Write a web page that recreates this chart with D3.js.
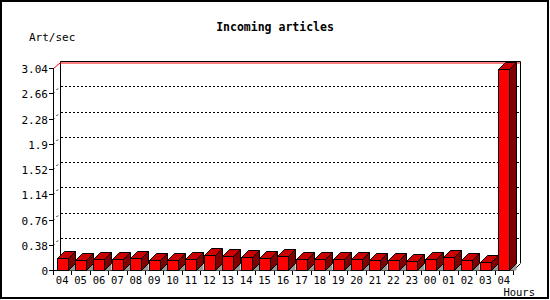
<!DOCTYPE html>
<html>
<head>
<meta charset="utf-8">
<script src="https://cdn.jsdelivr.net/npm/d3@7"></script>
<style>
  body { margin: 0; background: #fff; }
  text { font-family: "DejaVu Sans Mono", monospace; fill: #000; }
</style>
</head>
<body>
<svg id="chart" width="550" height="300"></svg>
<script>
const hours = ['04','05','06','07','08','09','10','11','12','13','14','15','16',
               '17','18','19','20','21','22','23','00','01','02','03','04'];
const artPerSec = [0.176, 0.146, 0.16, 0.16, 0.176, 0.146, 0.146, 0.16, 0.22, 0.206, 0.19, 0.176, 0.206,
                   0.16, 0.16, 0.16, 0.16, 0.146, 0.146, 0.13, 0.16, 0.19, 0.146, 0.115, 3.02];
const yTicks = [0, 0.38, 0.76, 1.14, 1.52, 1.9, 2.28, 2.66, 3.04];

const svg = d3.select('#chart');
const depth = 7;

// frame round the whole picture
svg.append('rect')
  .attr('x', 1).attr('y', 1).attr('width', 547).attr('height', 297)
  .attr('fill', '#fff').attr('stroke', '#000').attr('stroke-width', 2);

const x = d3.scaleBand()
  .domain(d3.range(hours.length))
  .range([53, 513])
  .paddingInner(0.4)
  .paddingOuter(0.2);
const y = d3.scaleLinear().domain([0, 3.04]).range([270, 68]);

const x0 = 53, x1 = 513, y0 = y(0), yTop = y(3.04);

// back plane
svg.append('path')
  .attr('d', `M${x0 + depth + 0.5},${y0 - depth}V${yTop - depth + 0.5}H${x1 + depth + 0.5}V${y0 - depth}`)
  .attr('fill', 'none').attr('stroke', '#000');

// grid
yTicks.slice(1, -1).forEach(v => {
  const yy = Math.round(y(v)) + 0.5;
  svg.append('line')
    .attr('x1', x0 + depth + 1).attr('x2', x1 + depth)
    .attr('y1', yy - depth).attr('y2', yy - depth)
    .attr('stroke', '#000').attr('stroke-dasharray', '2,2');
  svg.append('line')
    .attr('x1', x0).attr('x2', x0 + depth)
    .attr('y1', yy).attr('y2', yy - depth)
    .attr('stroke', '#000').attr('stroke-dasharray', '2,3');
});
// top line in red
svg.append('path')
  .attr('d', `M${x0},${yTop + 1}L${x0 + depth},${yTop - depth + 2}H${x1 + depth}`)
  .attr('fill', 'none').attr('stroke', '#f00');

// floor edges
svg.append('path')
  .attr('d', `M${x1 + 0.5},${y0 + 0.5}L${x1 + depth + 0.5},${y0 - depth + 0.5}`)
  .attr('fill', 'none').attr('stroke', '#000');

// front axes
svg.append('line')
  .attr('x1', x0 + 0.5).attr('x2', x0 + 0.5).attr('y1', yTop).attr('y2', y0)
  .attr('stroke', '#000');
svg.append('line')
  .attr('x1', x0 - 3).attr('x2', x1 + 1).attr('y1', y0 + 0.5).attr('y2', y0 + 0.5)
  .attr('stroke', '#000');

// y ticks and labels
yTicks.forEach(v => {
  const yy = Math.round(y(v)) + 0.5;
  svg.append('line')
    .attr('x1', x0 - 4).attr('x2', x0).attr('y1', yy).attr('y2', yy)
    .attr('stroke', '#000');
  svg.append('text')
    .attr('x', 48).attr('y', yy + 4)
    .attr('text-anchor', 'end').attr('font-size', '11px')
    .text(v);
});

// x ticks and labels
const step = x.step();
d3.range(hours.length + 1).forEach(i => {
  const xx = Math.round(x0 + i * step) + 0.5;
  svg.append('line')
    .attr('x1', xx).attr('x2', xx).attr('y1', y0).attr('y2', y0 + 5)
    .attr('stroke', '#000');
});
hours.forEach((h, i) => {
  svg.append('text')
    .attr('x', x(i) + x.bandwidth() / 2).attr('y', 284)
    .attr('text-anchor', 'middle').attr('font-size', '10.5px')
    .text(h);
});

// bars
const bars = svg.append('g');
artPerSec.forEach((v, i) => {
  const bx = Math.round(x(i)) + 0.5;
  const bw = Math.round(x.bandwidth());
  const by = Math.round(y(v)) + 0.5;
  const base = y0 + 0.5;
  const g = bars.append('g');
  g.append('path')
    .attr('d', `M${bx + bw},${base}L${bx + bw + depth},${base - depth}V${base}Z`)
    .attr('fill', '#999').attr('stroke', 'none');
  g.append('path')
    .attr('d', `M${bx + bw},${by}L${bx + bw + depth},${by - depth}V${base - depth}L${bx + bw},${base}Z`)
    .attr('fill', '#800000').attr('stroke', '#000');
  g.append('path')
    .attr('d', `M${bx},${by}L${bx + depth},${by - depth}H${bx + bw + depth}L${bx + bw},${by}Z`)
    .attr('fill', '#cc0000').attr('stroke', '#000');
  g.append('rect')
    .attr('x', bx).attr('y', by).attr('width', bw).attr('height', base - by)
    .attr('fill', '#f00').attr('stroke', '#000');
});

// titles
svg.append('text')
  .attr('x', 275).attr('y', 31)
  .attr('text-anchor', 'middle').attr('font-size', '11.5px').attr('font-weight', 'bold')
  .text('Incoming articles');
svg.append('text')
  .attr('x', 29).attr('y', 41).attr('font-size', '11px')
  .text('Art/sec');
svg.append('text')
  .attr('x', 535).attr('y', 296)
  .attr('text-anchor', 'end').attr('font-size', '10.5px')
  .text('Hours');
</script>
</body>
</html>
